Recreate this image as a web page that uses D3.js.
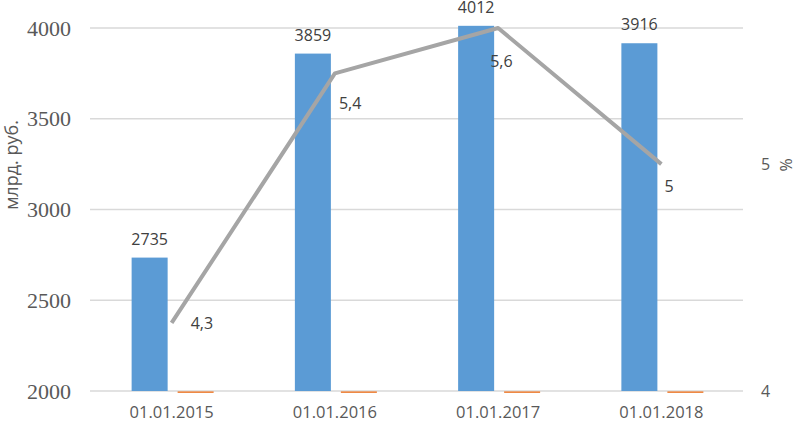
<!DOCTYPE html>
<html>
<head>
<meta charset="utf-8">
<script src="https://cdn.jsdelivr.net/npm/d3@7"></script>
<style>
  body { margin: 0; background: #fff; }
  svg { display: block; }
</style>
</head>
<body>
<div id="chart"></div>
<script>
//Chart data
var categories = ["01.01.2015", "01.01.2016", "01.01.2017", "01.01.2018"];
var amountValues = [2735, 3859, 4012, 3916];   // млрд. руб., left axis
var flatValues = [4.3, 5.4, 5.6, 5];           // orange bars, drawn on left axis (below its minimum)
var shareValues = [4.3, 5.4, 5.6, 5];          // %, right axis
var shareLabels = ["4,3", "5,4", "5,6", "5"];
var leftTicks = [2000, 2500, 3000, 3500, 4000];
var rightTicks = [4, 5];

function drawChart() {
    var width = 797, height = 422;
    var plotLeft = 90, plotRight = 743, plotTop = 28, plotBottom = 391;
    var sans = "'Open Sans', 'DejaVu Sans', sans-serif";

    var svg = d3.select("#chart").append("svg")
        .attr("width", width)
        .attr("height", height);

    //Scales
    var x = d3.scaleBand().domain(categories).range([plotLeft, plotRight]).padding(0);
    var inner = d3.scaleBand().domain(["amount", "flat"]).range([-40, 42]).paddingInner(0.217);
    var yLeft = d3.scaleLinear().domain([2000, 4000]).range([plotBottom, plotTop]);
    var yRight = d3.scaleLinear().domain([4, 5.6]).range([plotBottom, plotTop]);

    function center(c) { return x(c) + x.bandwidth() / 2; }

    //Gridlines
    svg.append("g")
        .selectAll("line")
        .data(leftTicks)
        .enter().append("line")
        .attr("x1", plotLeft).attr("x2", plotRight)
        .attr("y1", function (d) { return yLeft(d); })
        .attr("y2", function (d) { return yLeft(d); })
        .attr("stroke", "#d9d9d9")
        .attr("stroke-width", 1.3);

    //Left axis labels (serif, as in the source)
    svg.append("g")
        .selectAll("text")
        .data(leftTicks)
        .enter().append("text")
        .attr("x", 71)
        .attr("y", function (d) { return yLeft(d); })
        .attr("dy", "0.35em")
        .attr("text-anchor", "end")
        .attr("font-family", "'Liberation Serif', 'Times New Roman', serif")
        .attr("font-size", 22)
        .attr("fill", "#595959")
        .text(function (d) { return d; });

    //Right axis labels
    svg.append("g")
        .selectAll("text")
        .data(rightTicks)
        .enter().append("text")
        .attr("x", 761)
        .attr("y", function (d) { return yRight(d); })
        .attr("dy", "0.36em")
        .attr("font-family", sans)
        .attr("font-size", 16)
        .attr("fill", "#595959")
        .text(function (d) { return d; });

    //Category labels
    svg.append("g")
        .selectAll("text")
        .data(categories)
        .enter().append("text")
        .attr("x", function (d) { return center(d); })
        .attr("y", 418)
        .attr("text-anchor", "middle")
        .attr("font-family", sans)
        .attr("font-size", 16.5)
        .attr("fill", "#595959")
        .text(function (d) { return d; });

    //Axis titles
    svg.append("text")
        .attr("transform", "translate(18,165) rotate(-90)")
        .attr("text-anchor", "middle")
        .attr("font-family", sans)
        .attr("font-size", 18)
        .attr("fill", "#595959")
        .text("млрд. руб.");

    svg.append("text")
        .attr("transform", "translate(792,165) rotate(-90)")
        .attr("text-anchor", "middle")
        .attr("font-family", sans)
        .attr("font-size", 16)
        .attr("fill", "#595959")
        .text("%");

    //Blue bars
    svg.append("g")
        .selectAll("rect")
        .data(amountValues)
        .enter().append("rect")
        .attr("x", function (d, i) { return center(categories[i]) + inner("amount"); })
        .attr("y", function (d) { return yLeft(d); })
        .attr("width", inner.bandwidth())
        .attr("height", function (d) { return yLeft(2000) - yLeft(d); })
        .attr("fill", "#5b9bd5");

    //Orange bars: values sit below the axis minimum, so only a sliver shows at the base
    svg.append("g")
        .selectAll("rect")
        .data(flatValues)
        .enter().append("rect")
        .attr("x", function (d, i) { return center(categories[i]) + inner("flat"); })
        .attr("y", function (d) { return yLeft(Math.max(d, 2000)) + 0.4; })
        .attr("width", inner.bandwidth())
        .attr("height", 1.5)
        .attr("fill", "#ed7d31");

    //Bar value labels
    svg.append("g")
        .selectAll("text")
        .data(amountValues)
        .enter().append("text")
        .attr("x", function (d, i) { return center(categories[i]) + inner("amount") + inner.bandwidth() / 2; })
        .attr("y", function (d) { return yLeft(d) - 13; })
        .attr("text-anchor", "middle")
        .attr("font-family", sans)
        .attr("font-size", 16)
        .attr("fill", "#404040")
        .text(function (d) { return d; });

    //Line
    var line = d3.line()
        .x(function (d, i) { return center(categories[i]); })
        .y(function (d) { return yRight(d); });

    svg.append("path")
        .datum(shareValues)
        .attr("d", line)
        .attr("fill", "none")
        .attr("stroke", "#a5a5a5")
        .attr("stroke-width", 4)
        .attr("stroke-linejoin", "round");

    //Line labels, nudged like the original
    var labelShift = [[19, 0], [4, 30], [-8, 33], [3, 22]];
    svg.append("g")
        .selectAll("text")
        .data(shareValues)
        .enter().append("text")
        .attr("x", function (d, i) { return center(categories[i]) + labelShift[i][0]; })
        .attr("y", function (d, i) { return yRight(d) + labelShift[i][1]; })
        .attr("dy", "0.36em")
        .attr("font-family", sans)
        .attr("font-size", 16)
        .attr("fill", "#404040")
        .text(function (d, i) { return shareLabels[i]; });
}

drawChart();
</script>
</body>
</html>
